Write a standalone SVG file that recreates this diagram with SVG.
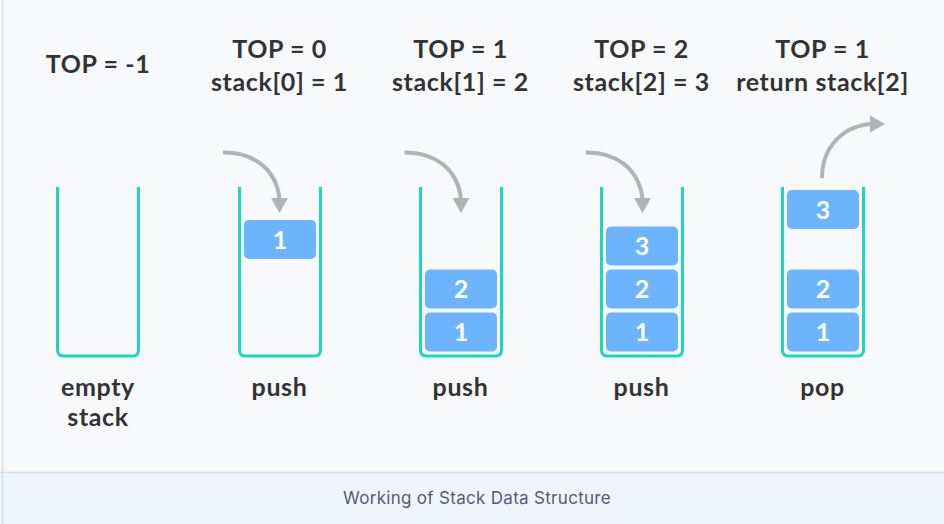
<svg xmlns="http://www.w3.org/2000/svg" width="944" height="524" viewBox="0 0 944 524">
  <defs>
    <style>
      .lbl { font-family: Lato, "Liberation Sans", sans-serif; font-weight: bold; font-size: 25px; letter-spacing: 0.6px; fill: #333333; text-anchor: middle; }
      .num { font-family: Lato, "Liberation Sans", sans-serif; font-weight: bold; font-size: 25px; fill: #ffffff; text-anchor: middle; }
      .cap { font-family: Inter, "Noto Sans", sans-serif; font-size: 17px; letter-spacing: 0.3px; fill: #565a7a; text-anchor: middle; }
      .box { fill: none; stroke: #1ed5c2; stroke-width: 3; }
      .blk { fill: #6db4fe; }
      .arr { fill: none; stroke: #b3b3b3; stroke-width: 4; }
      .head { fill: #b3b3b3; }
    </style>
  </defs>
  <rect x="0" y="0" width="944" height="524" fill="#f8f9fb"/>
  <rect x="0" y="472" width="944" height="52" fill="#f0f5fd"/>
  <line x1="0" y1="472.5" x2="944" y2="472.5" stroke="#d5dde8" stroke-width="1.5"/>
  <line x1="2.5" y1="0" x2="2.5" y2="524" stroke="#d6dce6" stroke-width="1.5"/>

  <g id="step-empty">
    <text class="lbl" x="98" y="73">TOP = -1</text>
    <path class="box" d="M57.5,187 V350 Q57.5,356 63.5,356 H132.5 Q138.5,356 138.5,350 V187"/>
    <text class="lbl" x="98" y="396">empty</text>
    <text class="lbl" x="98" y="426">stack</text>
  </g>

  <g id="step-push1">
    <text class="lbl" x="279.5" y="58">TOP = 0</text>
    <text class="lbl" x="279.5" y="91">stack[0] = 1</text>
    <path class="box" d="M239.5,187 V350 Q239.5,356 245.5,356 H314.5 Q320.5,356 320.5,350 V187"/>
    <rect class="blk" x="244" y="220" width="72" height="39" rx="5"/>
    <text class="num" x="280" y="248.5">1</text>
    <text class="lbl" x="279.5" y="396">push</text>
  </g>

  <g id="step-push2">
    <text class="lbl" x="460.5" y="58">TOP = 1</text>
    <text class="lbl" x="460.5" y="91">stack[1] = 2</text>
    <path class="box" d="M420.5,187 V350 Q420.5,356 426.5,356 H495.5 Q501.5,356 501.5,350 V187"/>
    <rect class="blk" x="425" y="269.5" width="72" height="39" rx="5"/>
    <text class="num" x="461" y="298">2</text>
    <rect class="blk" x="425" y="312.5" width="72" height="39" rx="5"/>
    <text class="num" x="461" y="341">1</text>
    <text class="lbl" x="460.5" y="396">push</text>
  </g>

  <g id="step-push3">
    <text class="lbl" x="641.5" y="58">TOP = 2</text>
    <text class="lbl" x="641.5" y="91">stack[2] = 3</text>
    <path class="box" d="M601.5,187 V350 Q601.5,356 607.5,356 H676.5 Q682.5,356 682.5,350 V187"/>
    <rect class="blk" x="606" y="226.5" width="72" height="39" rx="5"/>
    <text class="num" x="642" y="255">3</text>
    <rect class="blk" x="606" y="269.5" width="72" height="39" rx="5"/>
    <text class="num" x="642" y="298">2</text>
    <rect class="blk" x="606" y="312.5" width="72" height="39" rx="5"/>
    <text class="num" x="642" y="341">1</text>
    <text class="lbl" x="641.5" y="396">push</text>
  </g>

  <g id="step-pop">
    <text class="lbl" x="822.5" y="58">TOP = 1</text>
    <text class="lbl" x="822.5" y="91">return stack[2]</text>
    <path class="box" d="M782.5,187 V350 Q782.5,356 788.5,356 H857.5 Q863.5,356 863.5,350 V187"/>
    <rect class="blk" x="787" y="190" width="72" height="39" rx="5"/>
    <text class="num" x="823" y="218.5">3</text>
    <rect class="blk" x="787" y="269.5" width="72" height="39" rx="5"/>
    <text class="num" x="823" y="298">2</text>
    <rect class="blk" x="787" y="312.5" width="72" height="39" rx="5"/>
    <text class="num" x="823" y="341">1</text>
    <text class="lbl" x="822.5" y="396">pop</text>
  </g>

  <g id="connectors">
    <path class="arr" d="M223,152.5 C252,152 276,168 279.5,199"/>
    <polygon class="head" points="271,198 288,198 279.5,213"/>
    <path class="arr" d="M404.5,152.5 C433.5,152 457.5,168 461,199"/>
    <polygon class="head" points="452.5,198 469.5,198 461,213"/>
    <path class="arr" d="M586,152.5 C615,152 639,168 642.5,199"/>
    <polygon class="head" points="634,198 651,198 642.5,213"/>
    <path class="arr" d="M822,178 C822,148 842,126 871,124"/>
    <polygon class="head" points="870,115.5 885,124 870,132.5"/>
  </g>

  <text class="cap" x="477" y="504">Working of Stack Data Structure</text>
</svg>
